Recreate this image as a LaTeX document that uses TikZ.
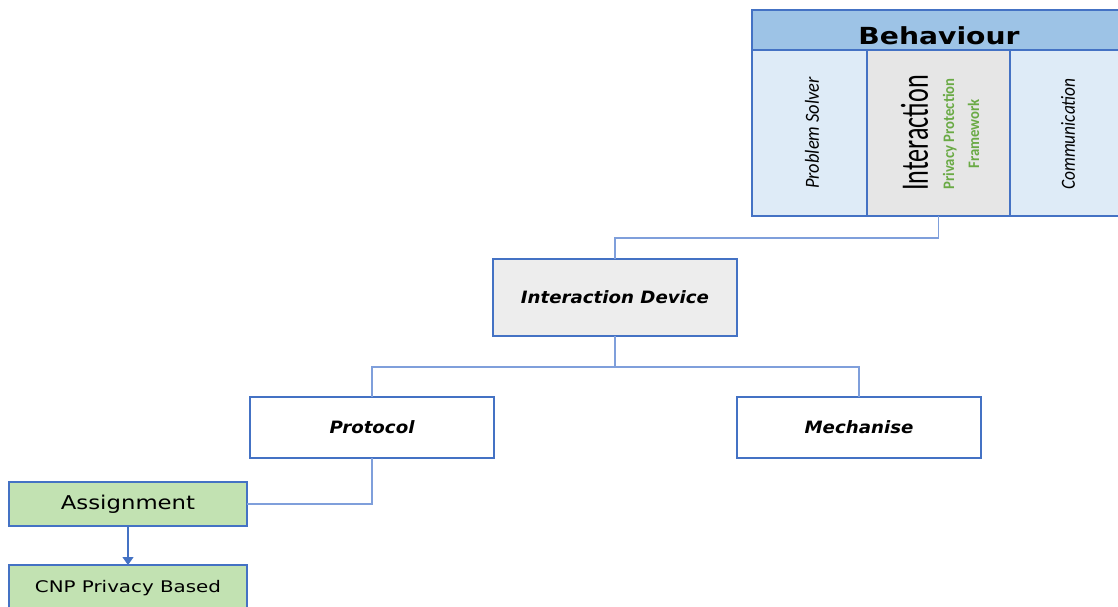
\documentclass[tikz,border=0pt]{standalone}
\usepackage{fontspec}
\usepackage{graphicx}
\usetikzlibrary{arrows.meta}
\newfontfamily\vfont{DejaVu Sans}
\newfontfamily\cfont{Carlito}
\definecolor{edgeblue}{HTML}{4472C4}
\definecolor{linkblue}{HTML}{7F9FDB}
\definecolor{headblue}{HTML}{9DC3E6}
\definecolor{paleblue}{HTML}{DEEBF7}
\definecolor{panelgray}{HTML}{E6E6E6}
\definecolor{devgray}{HTML}{EDEDED}
\definecolor{leafgreen}{HTML}{C2E2B2}
\definecolor{textgreen}{HTML}{6AAA45}
\newcommand{\wide}[1]{\scalebox{1.07}[1]{#1}}
\tikzset{
  box/.style={draw=edgeblue, line width=1.6pt, rectangle, inner sep=0pt, outer sep=0pt, anchor=center},
  treetext/.style={font=\vfont\bfseries\itshape\fontsize{17}{20}\selectfont},
  leaftext/.style={font=\vfont\fontsize{#1}{20}\selectfont},
  conn/.style={draw=linkblue, line width=1.2pt},
  rottext/.style={rotate=90, inner sep=0pt, anchor=center},
}
\begin{document}
\begin{tikzpicture}[x=1pt,y=-1pt]
\clip (0,0) rectangle (1118,607);
\fill[white] (0,0) rectangle (1118,607);

% Behaviour panel
\node[box, fill=headblue, minimum width=372pt, minimum height=40pt] (beh) at (938,30) {};
\node[box, fill=paleblue, minimum width=115pt, minimum height=166pt] (ps) at (809.5,133) {};
\node[box, fill=panelgray, minimum width=143pt, minimum height=166pt] (inter) at (938.5,133) {};
\node[box, fill=paleblue, minimum width=112pt, minimum height=166pt] (comm) at (1066,133) {};
\node[font=\vfont\bfseries\fontsize{23.5}{26}\selectfont] (behT) at (939,35.5) {\scalebox{1.2}[1]{Behaviour}};
\node[rottext, font=\cfont\itshape\fontsize{20}{22}\selectfont] (psT) at (812,133) {\scalebox{0.92}[1]{Problem Solver}};
\node[rottext, font=\cfont\fontsize{39}{42}\selectfont] (interT) at (914.5,133) {\scalebox{0.67}[1]{Interaction}};
\node[rottext, align=center, text=textgreen, font=\cfont\bfseries\fontsize{16}{25}\selectfont] (pptT) at (961,134)
  {\scalebox{0.92}[1]{Privacy Protection}\\\scalebox{0.92}[1]{Framework}};
\node[rottext, font=\cfont\itshape\fontsize{20}{22}\selectfont] (commT) at (1068,134) {\scalebox{0.87}[1]{Communication}};

% Tree nodes
\node[box, fill=devgray, minimum width=244pt, minimum height=77pt, treetext] (dev) at (615,297.5)
  {\wide{Interaction Device}};
\node[box, fill=white, minimum width=244pt, minimum height=61pt, treetext] (proto) at (372,427.5)
  {\wide{Protocol}};
\node[box, fill=white, minimum width=244pt, minimum height=61pt, treetext] (mech) at (859,427.5)
  {\wide{Mechanise}};
\node[box, fill=leafgreen, minimum width=238pt, minimum height=44pt, leaftext=19] (assign) at (128,504)
  {\scalebox{1.2}[1]{Assignment}};
\node[box, fill=leafgreen, minimum width=238pt, minimum height=46pt, leaftext=16] (cnp) at (128,588)
  {\scalebox{1.24}[1]{CNP Privacy Based}};

% Connectors
\draw[conn] (inter.south) -- ++(0,22) -| (dev.north);
\draw[conn] (dev.south) -- ++(0,31) coordinate (fork);
\draw[conn] (fork) -| (proto.north);
\draw[conn] (fork) -| (mech.north);
\draw[conn] (proto.south) |- (assign.east);
\draw[draw=edgeblue, line width=1.2pt, -{Triangle[width=11pt,length=8pt]}] (assign.south) -- (cnp.north);
\end{tikzpicture}
\end{document}
